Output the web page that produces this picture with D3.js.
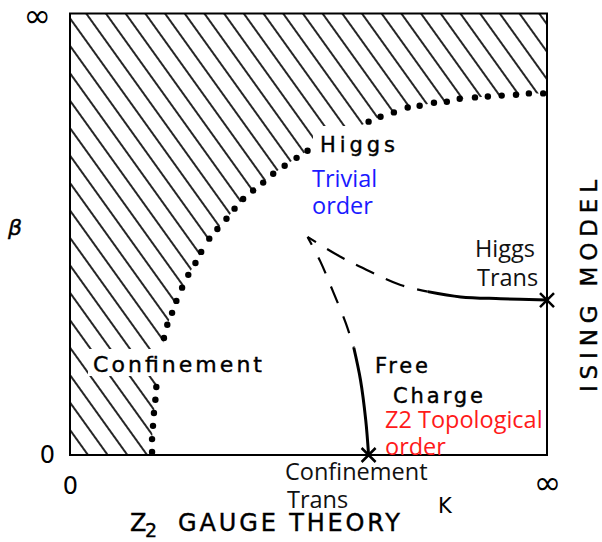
<!DOCTYPE html>
<html><head><meta charset="utf-8">
<script src="https://cdn.jsdelivr.net/npm/d3@7"></script>
<style>body{margin:0;background:#fff}</style>
</head><body>
<svg id="chart" width="602" height="542"></svg>
<script>
// Compactified axes: K from 0 to ∞ and β from 0 to ∞ mapped onto 0..100
const xTickValues = [0, 100];
const xTickLabels = ["0", "∞"];
const yTickValues = [0, 100];
const yTickLabels = ["0", "∞"];

// Dotted phase boundary (visible dots), [K, β]
const boundaryDots = [
  [99.2,81.9],[96.2,81.9],[93.5,81.6],[90.5,81.4],[87.6,81.2],[84.9,81.0],[81.7,80.7],
  [79.0,80.0],[76.3,79.8],[73.3,79.1],[70.8,78.7],[67.9,77.6],[65.1,76.6],[62.6,75.5],
  [49.8,68.9],[47.5,67.3],[45.0,65.5],[42.6,63.7],[40.5,61.7],[38.4,59.9],[36.3,58.0],
  [34.5,55.8],[32.8,53.5],[30.9,51.2],[29.2,49.0],[27.5,46.0],[26.3,43.5],[24.8,40.8],
  [23.5,37.9],[22.3,34.9],[21.4,32.2],[20.4,29.5],[19.7,26.5],
  [18.1,15.4],[17.9,12.5],[17.6,9.5],[17.4,6.6],[17.2,3.6],[17.2,0.7]
];
// Higgs transition line (apex -> Ising-model endpoint)
const higgsTransDashed = [[49.8,49.4],[56.7,44.9],[63.0,41.5],[69.3,38.5],[75.0,37.0]];
const higgsTransSolid  = [[75.0,37.0],[81.9,35.8],[90.3,35.4],[100,35.1]];
// Confinement transition line (apex -> gauge-theory endpoint)
const confTransDashed = [[49.8,49.4],[52.5,43.8],[55.0,37.4],[57.8,29.9],[59.5,24.3]];
const confTransSolid  = [[59.5,24.3],[60.9,17.0],[62.0,7.9],[62.6,0]];
// Critical endpoints marked with ×
const criticalPoints = [[100,35.1],[62.6,0]];

const svg = d3.select("#chart");
const x = d3.scaleLinear().domain([0,100]).range([70,547]);
const y = d3.scaleLinear().domain([0,100]).range([455,13.5]);

// hatch pattern
const defs = svg.append("defs");
const pat = defs.append("pattern").attr("id","hatch").attr("patternUnits","userSpaceOnUse")
  .attr("width",16).attr("height",20)
  .attr("patternTransform","translate(88,455) rotate(-35.67) translate(-8,0)");
pat.append("line").attr("x1",8).attr("x2",8).attr("y1",-5).attr("y2",25)
  .attr("stroke","#000").attr("stroke-width",1.7);

const lin = d3.line().x(d=>x(d[0])).y(d=>y(d[1]));
const hatchPoly = [[0,0],[0,100],[100,100],[100,81.8]].concat(boundaryDots, [[17.2,0]]);
svg.append("path").attr("d", lin(hatchPoly)+"Z").attr("fill","url(#hatch)").attr("stroke","none");

// dots
svg.append("g").selectAll("circle").data(boundaryDots).join("circle")
  .attr("cx",d=>x(d[0])).attr("cy",d=>y(d[1])).attr("r",3.2).attr("fill","#000");

// frame
svg.append("rect").attr("x",x(0)).attr("y",y(100)).attr("width",x(100)-x(0)).attr("height",y(0)-y(100))
  .attr("fill","none").attr("stroke","#000").attr("stroke-width",2);

// transition lines
const cur = d3.line().x(d=>x(d[0])).y(d=>y(d[1])).curve(d3.curveCatmullRom);
svg.append("path").attr("d",cur(higgsTransDashed)).attr("fill","none").attr("stroke","#000")
  .attr("stroke-width",2.2).attr("stroke-dasharray","20,13").attr("stroke-dashoffset",10);
svg.append("path").attr("d",cur(confTransDashed)).attr("fill","none").attr("stroke","#000")
  .attr("stroke-width",2.2).attr("stroke-dasharray","18,14").attr("stroke-dashoffset",9);
svg.append("path").attr("d",cur(higgsTransSolid)).attr("fill","none").attr("stroke","#000").attr("stroke-width",3);
svg.append("path").attr("d",cur(confTransSolid)).attr("fill","none").attr("stroke","#000").attr("stroke-width",3);

// × markers
const xm = svg.append("g");
criticalPoints.forEach(p=>{
  const cx=x(p[0]), cy=y(p[1]), r=7;
  xm.append("path").attr("d",`M${cx-r},${cy-r}L${cx+r},${cy+r}M${cx-r},${cy+r}L${cx+r},${cy-r}`)
    .attr("stroke","#000").attr("stroke-width",2.5);
});

// tick labels via axes
const ax = svg.append("g").attr("transform",`translate(0,${y(0)})`)
  .call(d3.axisBottom(x).tickValues(xTickValues).tickFormat((d,i)=>xTickLabels[i]).tickSize(0).tickPadding(22));
const ay = svg.append("g").attr("transform",`translate(${x(0)},0)`)
  .call(d3.axisLeft(y).tickValues(yTickValues).tickFormat((d,i)=>yTickLabels[i]).tickSize(0).tickPadding(15));
[ax,ay].forEach(a=>{
  a.select(".domain").remove();
  a.selectAll("text").attr("font-family","DejaVu Sans").attr("font-size",24).attr("fill","#000");
  a.selectAll("text").filter(d=>d===100).attr("font-size",33);
});
ay.selectAll("text").filter(d=>d===100).attr("dx",-4).attr("dy","0.40em");
ax.selectAll("text").filter(d=>d===100).attr("dy","0.5em");

// old lettering labels (with white backing where they break the hatching)
function oldLabel(t, px, py, size, len, bg){
  if(bg) svg.append("rect").attr("x",bg[0]).attr("y",bg[1]).attr("width",bg[2]).attr("height",bg[3]).attr("fill","#fff");
  svg.append("text").attr("x",px).attr("y",py).text(t)
    .attr("font-family","DejaVu Sans").attr("font-size",size)
    .attr("textLength",len).attr("lengthAdjust","spacing")
    .attr("fill","#000").attr("stroke","#000").attr("stroke-width",0.4);
}
oldLabel("Higgs",320,152,21,75,[313,126,88,32]);
oldLabel("Confinement",93,372,22,169,[88,349,178,27]);
oldLabel("Free",375,373,21,53);
oldLabel("Charge",393,403,21,90);
oldLabel("GAUGE THEORY",178,531,24,222);
oldLabel("Z",130,531,24,13);
svg.append("text").attr("x",145).attr("y",537).text("2").attr("font-family","DejaVu Sans")
  .attr("font-size",19).attr("stroke","#000").attr("stroke-width",0.4);
svg.append("text").attr("x",438).attr("y",513).text("K").attr("font-family","DejaVu Sans").attr("font-size",21);
svg.append("text").attr("x",8).attr("y",235).text("β").attr("font-family","DejaVu Sans")
  .attr("font-style","italic").attr("font-size",22).attr("stroke","#000").attr("stroke-width",0.4);
svg.append("text").attr("transform","translate(597,392) rotate(-90)").text("ISING MODEL")
  .attr("font-family","DejaVu Sans").attr("font-size",23).attr("textLength",212).attr("lengthAdjust","spacing")
  .attr("stroke","#000").attr("stroke-width",0.4);

// annotation labels
function note(t, px, py, color){
  svg.append("text").attr("x",px).attr("y",py).text(t)
    .attr("font-family","Open Sans").attr("font-size",23.5).attr("fill",color);
}
note("Trivial",312,187,"#1a1aff");
note("order",312,214,"#1a1aff");
note("Higgs",475,257,"#111");
note("Trans",477,286,"#111");
note("Z2 Topological",385,428,"#ff1a1a");
note("order",385,455,"#ff1a1a");
note("Confinement",285,480,"#111");
note("Trans",287,508,"#111");
</script>
</body></html>
